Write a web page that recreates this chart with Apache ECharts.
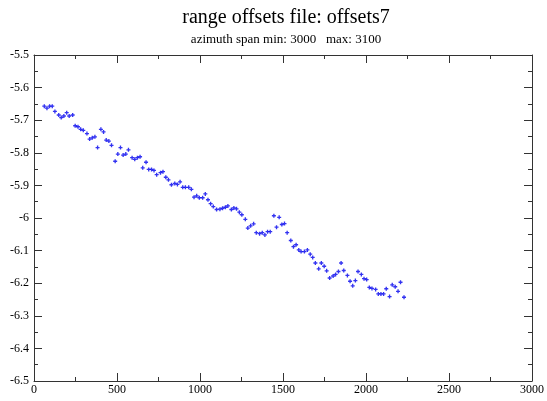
<!DOCTYPE html>
<html>
<head>
<meta charset="utf-8">
<script src="https://cdn.jsdelivr.net/npm/echarts@6/dist/echarts.min.js"></script>
<style>
  html, body { margin: 0; padding: 0; background: #fff; }
  #chart { width: 547px; height: 401px; }
</style>
</head>
<body>
<div id="chart"></div>
<script>
// azimuth position of each measurement
const xs = [
  62, 78, 94, 110, 126, 149, 164, 180, 197, 212, 233, 248, 265, 281, 297, 319,
  335, 351, 367, 383, 403, 419, 435, 451, 467, 489, 505, 521, 537, 553, 569, 591,
  607, 623, 639, 655, 675, 691, 708, 723, 739, 762, 777, 794, 810, 828, 848, 864,
  880, 896, 912, 932, 948, 964, 980, 996, 1016, 1032, 1048, 1064, 1080, 1100, 1120, 1136,
  1153, 1168, 1189, 1204, 1220, 1237, 1252, 1273, 1288, 1305, 1323, 1339, 1359, 1375, 1391, 1407,
  1423, 1445, 1461, 1477, 1493, 1509, 1525, 1547, 1563, 1579, 1595, 1609, 1629, 1647, 1664, 1679,
  1695, 1715, 1731, 1748, 1763, 1781, 1802, 1817, 1834, 1850, 1866, 1888, 1904, 1920, 1936, 1952,
  1972, 1988, 2004, 2020, 2036, 2058, 2074, 2090, 2106, 2122, 2142, 2158, 2176, 2193, 2208, 2229
];
// range offset values
const offsets = [
  -5.657, -5.663, -5.657, -5.657, -5.673, -5.684, -5.692, -5.687, -5.677, -5.687, -5.684, -5.717, -5.720, -5.728, -5.731, -5.741,
  -5.758, -5.754, -5.751, -5.784, -5.728, -5.736, -5.761, -5.764, -5.777, -5.826, -5.804, -5.784, -5.807, -5.804, -5.791, -5.815,
  -5.820, -5.815, -5.812, -5.846, -5.829, -5.851, -5.851, -5.854, -5.867, -5.861, -5.858, -5.875, -5.883, -5.898, -5.894, -5.897,
  -5.889, -5.906, -5.906, -5.906, -5.912, -5.936, -5.932, -5.938, -5.938, -5.926, -5.944, -5.956, -5.965, -5.974, -5.973, -5.970,
  -5.967, -5.963, -5.974, -5.969, -5.972, -5.982, -5.990, -6.004, -6.031, -6.024, -6.018, -6.045, -6.048, -6.045, -6.052, -6.042,
  -6.042, -5.993, -6.028, -5.998, -6.020, -6.017, -6.045, -6.069, -6.088, -6.082, -6.098, -6.103, -6.103, -6.098, -6.111, -6.121,
  -6.138, -6.156, -6.138, -6.148, -6.162, -6.184, -6.178, -6.173, -6.164, -6.138, -6.161, -6.176, -6.194, -6.208, -6.192, -6.164,
  -6.173, -6.186, -6.189, -6.213, -6.216, -6.219, -6.233, -6.233, -6.233, -6.217, -6.241, -6.205, -6.211, -6.225, -6.197, -6.243
];

const titleText = 'range offsets file: offsets7';
const subText = 'azimuth span min: 3000   max: 3100';

const serif = '"Liberation Serif", "DejaVu Serif", serif';
const axisColor = '#333';

const chart = echarts.init(document.getElementById('chart'));

function frameAxis(extra) {
  return Object.assign({
    type: 'value',
    axisLine: { show: true, onZero: false, lineStyle: { color: axisColor, width: 1 } },
    axisTick: { show: true, inside: true, length: 8, lineStyle: { color: axisColor } },
    minorTick: { show: true, splitNumber: 2, length: 4, lineStyle: { color: axisColor } },
    splitLine: { show: false },
    axisLabel: { show: true, color: '#000', fontFamily: serif, fontSize: 12 }
  }, extra);
}

chart.setOption({
  animation: false,
  backgroundColor: '#fff',
  title: {
    text: titleText,
    subtext: subText,
    left: 281,
    textAlign: 'center',
    top: 3,
    itemGap: 5,
    textStyle: { fontFamily: serif, fontSize: 20, fontWeight: 'normal', color: '#000' },
    subtextStyle: { fontFamily: serif, fontSize: 13, color: '#000' }
  },
  grid: { left: 34, right: 14, top: 55, bottom: 20, containLabel: false },
  xAxis: [
    frameAxis({ position: 'bottom', min: 0, max: 3000, interval: 500,
      axisLabel: { color: '#000', fontFamily: serif, fontSize: 12, margin: 3,
        formatter: (v) => String(v) } }),
    frameAxis({ position: 'top', min: 0, max: 3000, interval: 500, axisLabel: { show: false } })
  ],
  yAxis: [
    frameAxis({ position: 'left', min: -6.5, max: -5.5, interval: 0.1,
      axisLabel: { color: '#000', fontFamily: serif, fontSize: 12, margin: 5 } }),
    frameAxis({ position: 'right', min: -6.5, max: -5.5, interval: 0.1, axisLabel: { show: false } })
  ],
  series: [{
    type: 'scatter',
    data: xs.map((x, i) => [x, offsets[i]]),
    symbol: 'path://M1,0H2V1H3V2H2V3H1V2H0V1H1Z',
    symbolSize: 4,
    itemStyle: { color: '#0000ee' }
  }]
});
</script>
</body>
</html>
